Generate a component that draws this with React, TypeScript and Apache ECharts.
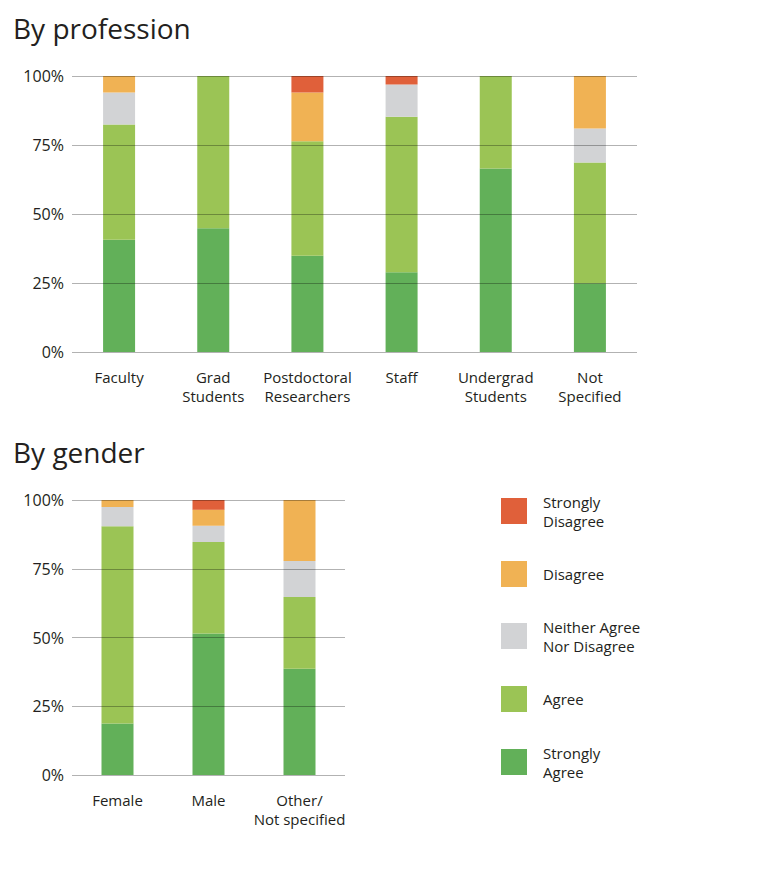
import React, { useEffect, useRef } from "react";
import * as echarts from "echarts";

const professionCategories = ["Faculty", "Grad\nStudents", "Postdoctoral\nResearchers", "Staff", "Undergrad\nStudents", "Not\nSpecified"];
const genderCategories = ["Female", "Male", "Other/\nNot specified"];
const yTicks = [0, 25, 50, 75, 100];

const responseTypes = ["Strongly Agree", "Agree", "Neither Agree Nor Disagree", "Disagree", "Strongly Disagree"];
const legendLabels = [["Strongly", "Agree"], ["Agree"], ["Neither Agree", "Nor Disagree"], ["Disagree"], ["Strongly", "Disagree"]];
const responseColors = ["#62B059", "#9BC455", "#D2D3D5", "#F0B254", "#E0603A"];

// By profession (% of respondents)
const profStronglyAgree = [40.7, 44.8, 34.9, 28.9, 66.5, 24.9];
const profAgree = [41.7, 55.2, 41.5, 56.3, 33.5, 43.8];
const profNeither = [11.6, 0, 0, 11.7, 0, 12.3];
const profDisagree = [6.0, 0, 17.6, 0, 0, 19.0];
const profStronglyDisagree = [0, 0, 6.0, 3.1, 0, 0];

// By gender (% of respondents)
const genStronglyAgree = [18.7, 51.5, 38.6];
const genAgree = [71.8, 33.2, 26.1];
const genNeither = [7.0, 5.9, 13.1];
const genDisagree = [2.5, 5.9, 22.2];
const genStronglyDisagree = [0, 3.5, 0];

const profSeries = [profStronglyAgree, profAgree, profNeither, profDisagree, profStronglyDisagree];
const genSeries = [genStronglyAgree, genAgree, genNeither, genDisagree, genStronglyDisagree];

const FONT = "'Open Sans', sans-serif";
const TEXT = "#231f20";

export default function App() {
  const ref = useRef<HTMLDivElement>(null);
  useEffect(() => {
    if (!ref.current) return;
    const chart = echarts.init(ref.current, null, { renderer: "svg" });

    const yAxisCommon = (gridIndex: number) => ({
      type: "value",
      gridIndex,
      min: 0,
      max: 100,
      interval: 25,
      z: 5,
      axisLine: { show: false },
      axisTick: { show: false },
      splitLine: { show: true, lineStyle: { color: "rgba(0,0,0,0.3)", width: 1 } },
      axisLabel: {
        formatter: (v: number) => (yTicks.includes(v) ? v + "%" : ""),
        color: TEXT,
        fontSize: 16,
        fontFamily: FONT,
        margin: 8,
      },
    });

    const xAxisCommon = (gridIndex: number, data: string[]) => ({
      type: "category",
      gridIndex,
      data,
      axisLine: { show: false },
      axisTick: { show: false },
      axisLabel: {
        color: TEXT,
        fontSize: 15,
        lineHeight: 19,
        fontFamily: FONT,
        margin: 15,
        interval: 0,
      },
    });

    const series: any[] = [];
    profSeries.forEach((vals, i) => {
      series.push({
        type: "bar",
        name: responseTypes[i],
        stack: "prof",
        xAxisIndex: 0,
        yAxisIndex: 0,
        barWidth: 32,
        data: vals,
        itemStyle: { color: responseColors[i] },
      });
    });
    genSeries.forEach((vals, i) => {
      series.push({
        type: "bar",
        name: responseTypes[i],
        stack: "gen",
        xAxisIndex: 1,
        yAxisIndex: 1,
        barWidth: 32,
        data: vals,
        itemStyle: { color: responseColors[i] },
      });
    });

    const legendCenters = [762, 699, 636, 574, 511];
    const graphic: any[] = [];
    responseTypes.forEach((_, i) => {
      graphic.push({
        type: "rect",
        shape: { x: 501, y: legendCenters[i] - 13, width: 26, height: 26 },
        style: { fill: responseColors[i] },
      });
      const lines = legendLabels[i];
      lines.forEach((line, j) => {
        const offset = (j - (lines.length - 1) / 2) * 19;
        graphic.push({
          type: "text",
          x: 543,
          y: legendCenters[i] + offset,
          style: {
            text: line,
            fill: TEXT,
            fontSize: 15,
            lineHeight: 18,
            fontFamily: FONT,
            verticalAlign: "middle",
            align: "left",
          },
        });
      });
    });

    chart.setOption({
      animation: false,
      backgroundColor: "#ffffff",
      title: [
        {
          text: "By profession",
          left: 8,
          top: 9,
          textStyle: { fontSize: 28, fontWeight: "normal", color: TEXT, fontFamily: FONT },
        },
        {
          text: "By gender",
          left: 8,
          top: 433,
          textStyle: { fontSize: 28, fontWeight: "normal", color: TEXT, fontFamily: FONT },
        },
      ],
      grid: [
        { left: 72, top: 76, width: 565, height: 276 },
        { left: 72, top: 500, width: 273, height: 275 },
      ],
      xAxis: [xAxisCommon(0, professionCategories), xAxisCommon(1, genderCategories)],
      yAxis: [yAxisCommon(0), yAxisCommon(1)],
      series,
      graphic,
    });
    return () => chart.dispose();
  }, []);
  return (
    <div
      ref={ref}
      style={{ position: "absolute", left: 0, top: 0, width: 780, height: 869, background: "#fff" }}
    />
  );
}
